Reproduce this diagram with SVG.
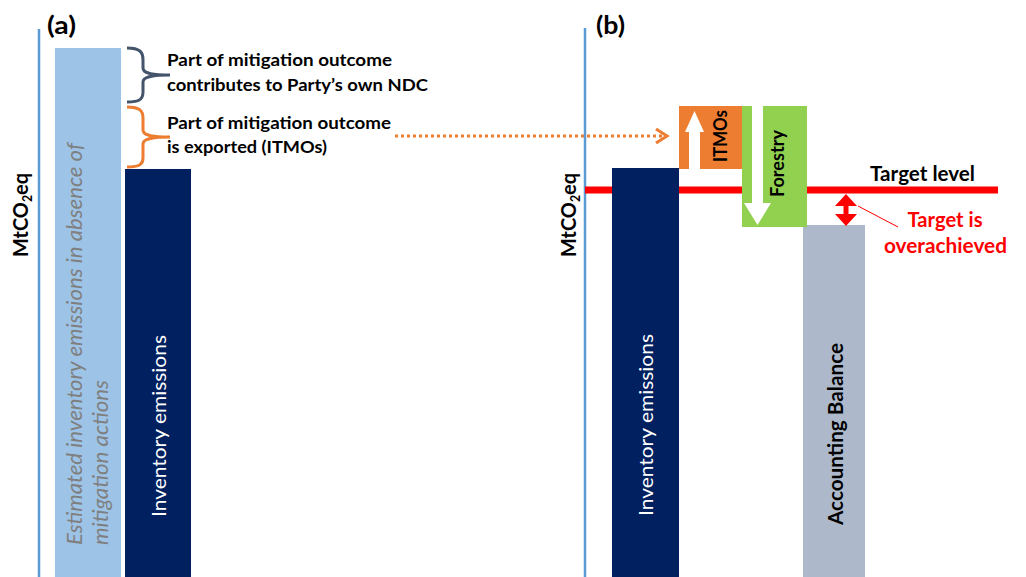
<svg xmlns="http://www.w3.org/2000/svg" width="1026" height="577" viewBox="0 0 1026 577">
<style>
text{font-family:Lato,"Liberation Sans",sans-serif}
.b{font-weight:bold}
.lbl{font-size:17.5px;font-weight:bold;fill:#000}
.axis{stroke:#5B9BD5;stroke-width:2.5;fill:none}
.brace{fill:none;stroke-width:3}
</style>
<rect width="1026" height="577" fill="#fff"/>
<g id="panel-labels">
<text x="47" y="34" font-size="24" class="b" textLength="29" lengthAdjust="spacingAndGlyphs">(a)</text>
<text x="596" y="34" font-size="24" class="b" textLength="29" lengthAdjust="spacingAndGlyphs">(b)</text>
</g>
<g id="connectors">
<line x1="395" y1="136" x2="664" y2="136" stroke="#ED7D31" stroke-width="3" stroke-dasharray="3,3"/>
<polyline points="656,129 667,136 656,143" fill="none" stroke="#ED7D31" stroke-width="3"/>
<path class="brace" stroke="#44546A" d="M127,48 C140,48 143,52 143,60 L143,68 C143,73 150,75 170,75 C150,75 143,77 143,82 L143,92 C143,99 140,102 127,102"/>
<path class="brace" stroke="#ED7D31" d="M127,107 C140,107 143,111 143,118 L143,130 C143,135 150,137 170,137 C150,137 143,139 143,144 L143,158 C143,164 140,167 127,167"/>
</g>
<g id="axes">
<line class="axis" x1="39" y1="29" x2="39" y2="577"/>
<line class="axis" x1="585" y1="28" x2="585" y2="577"/>
<text transform="translate(28,215) rotate(-90)" text-anchor="middle" font-size="21" class="b" textLength="84" lengthAdjust="spacingAndGlyphs">MtCO<tspan font-size="13" dy="4">2</tspan><tspan dy="-4">eq</tspan></text>
<text transform="translate(576,215) rotate(-90)" text-anchor="middle" font-size="21" class="b" textLength="84" lengthAdjust="spacingAndGlyphs">MtCO<tspan font-size="13" dy="4">2</tspan><tspan dy="-4">eq</tspan></text>
</g>
<g id="target-line">
<line x1="585" y1="190" x2="998" y2="190" stroke="#FF0000" stroke-width="7"/>
<text x="870" y="181" font-size="20" class="b" textLength="105" lengthAdjust="spacingAndGlyphs">Target level</text>
</g>
<g id="estimated-bar">
<rect x="55" y="48" width="66" height="529" fill="#9DC3E6"/>
<text transform="translate(82,545) rotate(-90)" font-size="20.5" font-style="italic" fill="#7F7F7F" textLength="402" lengthAdjust="spacingAndGlyphs">Estimated inventory emissions in absence of</text>
<text transform="translate(108,545) rotate(-90)" font-size="20.5" font-style="italic" fill="#7F7F7F" textLength="165" lengthAdjust="spacingAndGlyphs">mitigation actions</text>
</g>
<g id="inventory-a">
<rect x="125" y="169" width="66" height="408" fill="#002060"/>
<text transform="translate(166,517) rotate(-90)" font-size="20" fill="#fff" textLength="182" lengthAdjust="spacingAndGlyphs">Inventory emissions</text>
</g>
<g id="label-contributes">
<text class="lbl" x="167" y="66" textLength="225" lengthAdjust="spacingAndGlyphs">Part of mitigation outcome</text>
<text class="lbl" x="167" y="91" textLength="261" lengthAdjust="spacingAndGlyphs">contributes to Party’s own NDC</text>
</g>
<g id="label-exported">
<text class="lbl" x="167" y="129" textLength="224" lengthAdjust="spacingAndGlyphs">Part of mitigation outcome</text>
<text class="lbl" x="167" y="153" textLength="160" lengthAdjust="spacingAndGlyphs">is exported (ITMOs)</text>
</g>
<g id="inventory-b">
<rect x="612" y="168" width="67" height="409" fill="#002060"/>
<text transform="translate(653,516) rotate(-90)" font-size="20" fill="#fff" textLength="182" lengthAdjust="spacingAndGlyphs">Inventory emissions</text>
</g>
<g id="itmos">
<rect x="679" y="106" width="63" height="63" fill="#ED7D31"/>
<polygon points="694.5,111 704,132 700,132 700,169 689,169 689,132 685,132" fill="#fff"/>
<text transform="translate(727,136) rotate(-90)" text-anchor="middle" font-size="18.5" class="b" textLength="52" lengthAdjust="spacingAndGlyphs">ITMOs</text>
</g>
<g id="accounting-balance">
<rect x="803" y="225" width="62" height="352" fill="#ADB9CA"/>
<text transform="translate(843,525) rotate(-90)" font-size="20" class="b" textLength="182" lengthAdjust="spacingAndGlyphs">Accounting Balance</text>
</g>
<g id="forestry">
<rect x="742" y="106" width="65" height="121" fill="#92D050"/>
<polygon points="752,106 763,106 763,203 771,203 757.5,225 744,203 752,203" fill="#fff"/>
<text transform="translate(784,163.5) rotate(-90)" text-anchor="middle" font-size="18.5" class="b" textLength="67" lengthAdjust="spacingAndGlyphs">Forestry</text>
</g>
<g id="overachieved">
<polygon points="846,194 857,206 848.5,206 848.5,214 857,214 846,226 835,214 843.5,214 843.5,206 835,206" fill="#FF0000"/>
<line x1="858" y1="206" x2="898" y2="227" stroke="#FF0000" stroke-width="1"/>
<text x="945" y="227" text-anchor="middle" font-size="20" class="b" fill="#FF0000" textLength="75" lengthAdjust="spacingAndGlyphs">Target is</text>
<text x="945.5" y="253" text-anchor="middle" font-size="20" class="b" fill="#FF0000" textLength="123" lengthAdjust="spacingAndGlyphs">overachieved</text>
</g>
</svg>
